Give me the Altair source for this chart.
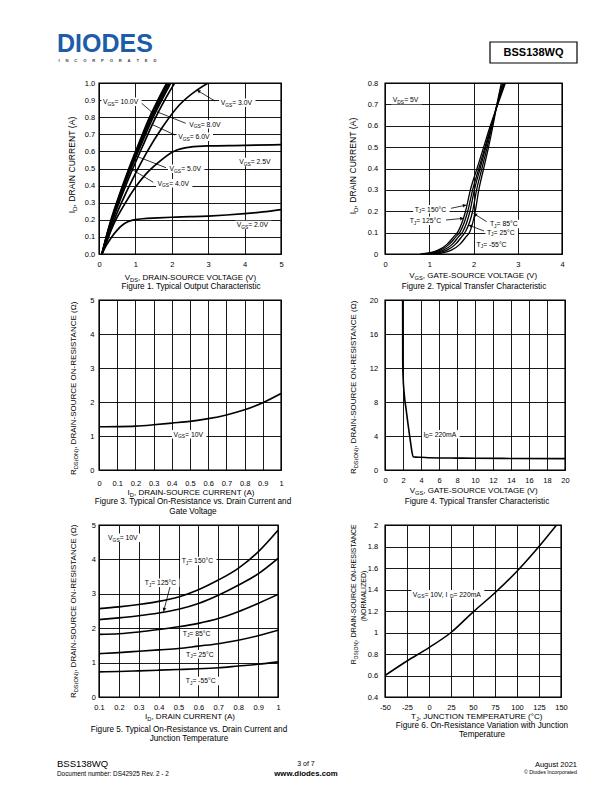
import math
import altair as alt
import pandas as pd

FONT = "Liberation Sans"
BLUE = "#1c5ca8"

# ---------------- Figure 1 : output characteristic ----------------
f1_vds_2v0 = [0.08, 0.2, 0.35, 0.5, 0.7, 0.9, 1.2, 1.6, 2.0, 2.5, 3.0, 3.5, 4.0, 4.5, 5.0]
f1_id_2v0 = [0, 0.05, 0.1, 0.14, 0.178, 0.197, 0.206, 0.211, 0.215, 0.218, 0.222, 0.228, 0.236, 0.246, 0.26]
f1_vds_2v5 = [0.08, 0.24, 0.44, 0.7, 1.0, 1.3, 1.6, 2.05, 2.5, 3.0, 4.0, 5.0]
f1_id_2v5 = [0, 0.09, 0.19, 0.29, 0.39, 0.47, 0.53, 0.6, 0.625, 0.632, 0.635, 0.64]
f1_vds_3v0 = [0.08, 0.24, 0.42, 0.66, 1.0, 1.3, 1.77, 2.2, 2.7, 3.0]
f1_id_3v0 = [0, 0.09, 0.2, 0.32, 0.47, 0.59, 0.75, 0.87, 0.96, 1.0]
f1_id_bundle = [0, 0.1, 0.2, 0.31, 0.5, 0.65, 0.8, 0.91, 1.0]
f1_vds_4v0 = [0.08, 0.22, 0.38, 0.57, 0.93, 1.24, 1.56, 1.83, 2.08]
f1_vds_5v0 = [0.08, 0.21, 0.36, 0.54, 0.88, 1.18, 1.49, 1.75, 1.97]
f1_vds_6v0 = [0.08, 0.205, 0.35, 0.53, 0.86, 1.15, 1.45, 1.71, 1.93]
f1_vds_8v0 = [0.08, 0.2, 0.34, 0.51, 0.84, 1.12, 1.42, 1.67, 1.89]
f1_vds_10v = [0.08, 0.2, 0.33, 0.5, 0.82, 1.1, 1.39, 1.64, 1.86]

# ---------------- Figure 2 : transfer characteristic ----------------
f2_id = [0, 0.005, 0.018, 0.045, 0.08, 0.105, 0.2, 0.3, 0.4, 0.5, 0.6, 0.7, 0.8]
f2_vgs_150 = [0.8, 1.0, 1.2, 1.4, 1.55, 1.65, 1.82, 1.93, 2.08, 2.23, 2.38, 2.55, 2.72]
f2_vgs_125 = [0.85, 1.05, 1.25, 1.45, 1.6, 1.7, 1.87, 1.98, 2.12, 2.26, 2.4, 2.54, 2.7]
f2_vgs_85 = [0.92, 1.12, 1.32, 1.52, 1.66, 1.76, 1.92, 2.02, 2.15, 2.28, 2.41, 2.54, 2.68]
f2_vgs_25 = [1.0, 1.2, 1.4, 1.59, 1.73, 1.82, 1.98, 2.07, 2.19, 2.31, 2.42, 2.53, 2.66]
f2_vgs_m55 = [1.1, 1.3, 1.5, 1.69, 1.83, 1.92, 2.04, 2.12, 2.23, 2.34, 2.44, 2.53, 2.63]

# ---------------- Figure 3 : Rds(on) vs Id ----------------
f3_id = [0, 0.1, 0.2, 0.3, 0.4, 0.5, 0.6, 0.7, 0.8, 0.9, 1.0]
f3_r = [1.27, 1.275, 1.29, 1.33, 1.38, 1.43, 1.51, 1.62, 1.77, 1.98, 2.25]

# ---------------- Figure 4 : Rds(on) vs Vgs ----------------
f4_vgs = [1.96, 1.97, 2.0, 2.15, 2.35, 2.52, 2.7, 2.88, 3.0, 3.14, 3.4, 4, 5, 6, 8, 10, 14, 20]
f4_r = [20, 13, 11.2, 8.8, 7.1, 5.7, 4.3, 2.95, 2.1, 1.57, 1.52, 1.5, 1.45, 1.42, 1.4, 1.38, 1.36, 1.34]

# ---------------- Figure 5 : Rds(on) vs Id and Tj ----------------
f5_id = [0.1, 0.2, 0.3, 0.4, 0.5, 0.6, 0.7, 0.8, 0.9, 1.0]
f5_r_150 = [2.57, 2.62, 2.69, 2.78, 2.91, 3.12, 3.4, 3.74, 4.22, 4.85]
f5_r_125 = [2.25, 2.3, 2.36, 2.44, 2.55, 2.72, 2.96, 3.25, 3.58, 4.03]
f5_r_85 = [1.82, 1.84, 1.89, 1.96, 2.04, 2.14, 2.28, 2.48, 2.72, 2.98]
f5_r_25 = [1.26, 1.29, 1.33, 1.37, 1.41, 1.48, 1.55, 1.65, 1.78, 1.94]
f5_r_m55 = [0.73, 0.74, 0.76, 0.78, 0.8, 0.82, 0.85, 0.9, 0.95, 1.02]

# ---------------- Figure 6 : normalized Rds(on) vs Tj ----------------
f6_tj = [-50, -25, 0, 25, 50, 75, 100, 125, 145]
f6_r = [0.6, 0.735, 0.86, 1.0, 1.19, 1.37, 1.57, 1.8, 2.0]

# ---------------- text metrics (Arial / Liberation Sans) ----------------
CW = {" ": 278, "\u00a0": 278, "(": 333, ")": 333, ",": 278, "-": 333, ".": 278,
      ":": 278, "=": 584, "°": 400, "©": 737, "Ω": 768}
for ch in "0123456789":
    CW[ch] = 556
CW.update(dict(A=667, B=667, C=722, D=722, E=667, F=611, G=778, H=722, I=278, J=500, K=667,
               L=556, M=833, N=722, O=778, P=667, Q=778, R=722, S=667, T=611, U=722, V=667,
               W=944, X=667, Y=667, Z=611))
CW.update(dict(a=556, b=556, c=500, d=556, e=556, f=278, g=556, h=556, i=222, j=222, k=500,
               l=222, m=833, n=556, o=556, p=556, q=556, r=333, s=500, t=278, u=556, v=500,
               w=722, x=500, y=500, z=500))
SUB = 0.72
LAB = 6.8


def tw(s, size):
    return sum(CW.get(c, 556) for c in s) * size / 1000.0


def parse(m):
    segs, i = [], 0
    while i < len(m):
        j = m.find("_{", i)
        if j < 0:
            segs.append((m[i:], False))
            break
        if j > i:
            segs.append((m[i:j], False))
        k = m.index("}", j)
        segs.append((m[j + 2:k], True))
        i = k + 1
    return segs


def text_rows(m, cx, cy, size, ang=0, anchor="center", weight="normal", color="black", ox=0, oy=0):
    cx -= ox
    cy -= oy
    base = 0.35 * size
    segs = parse(m)
    if len(segs) == 1 and not segs[0][1]:
        if ang == 0:
            r = dict(px=cx, py=cy + base, text=m, fs=size, ang=0)
        else:
            r = dict(px=cx + base, py=cy, text=m, fs=size, ang=ang)
        r.update(align=anchor, weight=weight, color=color)
        return [r], tw(m, size)
    widths = [tw(t, size * SUB if s else size) for t, s in segs]
    total = sum(widths)
    off = -total / 2 if anchor == "center" else (0 if anchor == "left" else -total)
    rows = []
    for (t, s), w in zip(segs, widths):
        fs = size * SUB if s else size
        sh = 0.25 * size if s else 0
        t2 = t.replace(" ", "\u00a0")
        if ang == 0:
            r = dict(px=cx + off, py=cy + base + sh, text=t2, fs=fs, ang=0)
        else:
            r = dict(px=cx + base + sh, py=cy - off, text=t2, fs=fs, ang=ang)
        r.update(align="left", weight=weight, color=color)
        rows.append(r)
        off += w
    return rows, total


def text_layers(rows):
    if not rows:
        return []
    df = pd.DataFrame(rows)
    out = []
    for (al, wt, col), g in df.groupby(["align", "weight", "color"]):
        out.append(
            alt.Chart(g.reset_index(drop=True)).mark_text(
                align=al, baseline="alphabetic", font=FONT, fontWeight=wt, color=col
            ).encode(
                x=alt.X("px:Q", scale=None),
                y=alt.Y("py:Q", scale=None),
                text="text:N",
                size=alt.Size("fs:Q", scale=None, legend=None),
                angle=alt.Angle("ang:Q", scale=None),
            )
        )
    return out


GEN_LABEL = "replace(format(datum.value, '~g'), '\u2212', '-')"


def make_axis(vals, expr, pad):
    return alt.Axis(values=vals, labelExpr=expr, grid=True, gridColor="black", gridWidth=0.9,
                    gridOpacity=1, ticks=False, tickSize=0, domain=False, labelFont=FONT,
                    labelFontSize=7.5, labelColor="black", labelPadding=pad, title=None,
                    labelFlush=False, labelOverlap=False)


def panel(P, curves, xdom, ydom, xvals, yvals, xexpr, yexpr, xpad, ypad,
          titles, labels, arrows, sw=1.6, page_rows=(), extra=()):
    left, top, w, h = P
    trows, rects = [], []
    for (m, cx, cy, size, ang) in titles:
        r, _ = text_rows(m, cx, cy, size, ang, ox=left, oy=top)
        trows += r
    for (m, cx, cy) in labels:
        r, tot = text_rows(m, cx, cy, LAB, 0, ox=left, oy=top)
        trows += r
        rects.append(dict(x1=cx - left - tot / 2 - 1.5, x2=cx - left + tot / 2 + 1.5,
                          y1=cy - top - 4.3, y2=cy - top + 4.3))
    for spec in page_rows:
        m, cx, cy, size, anchor, weight, color = spec
        trows += text_rows(m, cx, cy, size, 0, anchor, weight, color, ox=left, oy=top)[0]
    rules, heads = [], []
    for (x1, y1, x2, y2, hd) in arrows:
        rules.append(dict(x1=x1 - left, y1=y1 - top, x2=x2 - left, y2=y2 - top))
        if hd:
            dx, dy = x2 - x1, y2 - y1
            L = math.hypot(dx, dy)
            ang = math.degrees(math.atan2(dx, -dy)) % 360
            heads.append(dict(hx=x2 - left - dx / L * 2.2, hy=y2 - top - dy / L * 2.2, ha=ang))

    layers = []
    if rects:
        layers.append(alt.Chart(pd.DataFrame(rects)).mark_rect(color="white").encode(
            x=alt.X("x1:Q", scale=None), x2="x2:Q", y=alt.Y("y1:Q", scale=None), y2="y2:Q"))
    cdf = pd.DataFrame(curves)
    layers.append(alt.Chart(cdf).mark_line(color="black", strokeWidth=sw, interpolate="monotone",
                                           clip=True).encode(
        x=alt.X("x:Q", scale=alt.Scale(domain=xdom, nice=False, zero=False),
                axis=make_axis(xvals, xexpr, xpad)),
        y=alt.Y("y:Q", scale=alt.Scale(domain=ydom, nice=False, zero=False),
                axis=make_axis(yvals, yexpr, ypad)),
        detail="s:N"))
    if rules:
        layers.append(alt.Chart(pd.DataFrame(rules)).mark_rule(color="black", strokeWidth=0.8).encode(
            x=alt.X("x1:Q", scale=None), y=alt.Y("y1:Q", scale=None), x2="x2:Q", y2="y2:Q"))
    if heads:
        layers.append(alt.Chart(pd.DataFrame(heads)).mark_point(
            shape="triangle-up", filled=True, color="black", size=14, opacity=1).encode(
            x=alt.X("hx:Q", scale=None), y=alt.Y("hy:Q", scale=None),
            angle=alt.Angle("ha:Q", scale=None)))
    for (x1, y1, x2, y2) in extra:
        layers.append(alt.Chart(pd.DataFrame([dict(x1=x1 - left, x2=x2 - left, y1=y1 - top,
                                                   y2=y2 - top)])).mark_rect(
            fillOpacity=0, stroke="black", strokeWidth=1.2).encode(
            x=alt.X("x1:Q", scale=None), x2="x2:Q", y=alt.Y("y1:Q", scale=None), y2="y2:Q"))
    layers += text_layers(trows)
    return alt.layer(*layers).properties(
        width=w, height=h, view=alt.ViewBackground(stroke="black", strokeWidth=1.4))


def series(xs, ys, name):
    return [dict(x=a, y=b, s=name) for a, b in zip(xs, ys)]


def steps(a, b, st):
    n = int(round((b - a) / st))
    return [round(a + i * st, 4) for i in range(n + 1)]


TT = 8.0   # axis title size
TY = 8.6   # y title size for figures 1 and 2
CAP = 8.2  # caption size

# ---------------- panel geometry (page coords: left, top, width, height) ----------------
LEFT_X, RIGHT_X = 99, 385
P1 = (LEFT_X, 83, 182, 171)
P2 = (RIGHT_X, 83, 177, 171)
P3 = (LEFT_X, 300, 182, 170)
P4 = (RIGHT_X, 300, 180, 170)
P5 = (LEFT_X, 525, 179, 172)
P6 = (RIGHT_X, 525, 176, 172)

# header items (drawn from panels 1 and 2), footer items (panels 5 and 6)
NB = "\u00a0" * 5
header_left = [("DIODES", 57, 43, 25, "left", "bold", BLUE),
               (NB.join("INCORPORATED"), 107.5, 61, 4.2, "center", "bold", "#444444")]
header_right = [("BSS138WQ", 533.5, 52.5, 11, "center", "bold", "black")]
footer_left = [("BSS138WQ", 57, 764, 9.5, "left", "normal", "black"),
               ("Document number: DS42925 Rev. 2 - 2", 57, 773.5, 6.4, "left", "normal", "black"),
               ("3 of 7", 306, 764, 7, "center", "normal", "black"),
               ("www.diodes.com", 306, 773.5, 7.8, "center", "bold", "black")]
footer_right = [("August 2021", 577, 764, 7.5, "right", "normal", "black"),
                ("© Diodes Incorporated", 577, 772.5, 5.3, "right", "normal", "black")]

c1_curves = (series(f1_vds_2v0, f1_id_2v0, "2.0") + series(f1_vds_2v5, f1_id_2v5, "2.5")
             + series(f1_vds_3v0, f1_id_3v0, "3.0") + series(f1_vds_4v0, f1_id_bundle, "4.0")
             + series(f1_vds_5v0, f1_id_bundle, "5.0") + series(f1_vds_6v0, f1_id_bundle, "6.0")
             + series(f1_vds_8v0, f1_id_bundle, "8.0") + series(f1_vds_10v, f1_id_bundle, "10.0"))
ch1 = panel(P1, c1_curves, [0, 5], [0, 1], steps(0, 5, 1), steps(0, 1, 0.1),
            "format(datum.value, 'd')", "format(datum.value, '.1f')", 6.6, 4.3,
            [("V_{DS}, DRAIN-SOURCE VOLTAGE (V)", 191, 277, TT, 0),
             ("I_{D}, DRAIN CURRENT (A)", 71.7, 165, TY, 270),
             ("Figure 1. Typical Output Characteristic", 191, 286, CAP, 0)],
            [("V_{GS} = 10.0V", 121.5, 101.7), ("V_{GS} = 3.0V", 237.3, 102.7),
             ("V_{GS} = 8.0V", 205.8, 124.3), ("V_{GS} = 6.0V", 194.8, 136.7),
             ("V_{GS} = 2.5V", 255.8, 162), ("V_{GS} = 5.0V", 186.2, 168.7),
             ("V_{GS} = 4.0V", 174.2, 183.3), ("V_{GS} = 2.0V", 253.3, 225)],
            [(141.7, 103.3, 154.3, 114.3, True), (215, 101, 196.7, 90, True),
             (185.7, 123.3, 156.7, 111.7, False), (175, 135, 151.7, 124.3, False),
             (166, 167.7, 133.3, 155, False), (153.3, 182.3, 130, 168.3, False)], sw=1.7,
            page_rows=header_left)

c2_curves = (series(f2_vgs_150, f2_id, "150") + series(f2_vgs_125, f2_id, "125")
             + series(f2_vgs_85, f2_id, "85") + series(f2_vgs_25, f2_id, "25")
             + series(f2_vgs_m55, f2_id, "-55"))
ch2 = panel(P2, c2_curves, [0, 4], [0, 0.8], steps(0, 4, 1), steps(0, 0.8, 0.1),
            GEN_LABEL, GEN_LABEL, 6.8, 7.3,
            [("V_{GS}, GATE-SOURCE VOLTAGE (V)", 474, 275, TT, 0),
             ("I_{D}, DRAIN CURRENT (A)", 352.7, 166, TY, 270),
             ("Figure 2. Typical Transfer Characteristic", 474, 286, CAP, 0)],
            [("V_{DS} = 5V", 406.5, 100), ("T_{J} = 150°C", 431.3, 209.3),
             ("T_{J} = 125°C", 426.3, 220.7), ("T_{J} = 85°C", 504.7, 224),
             ("T_{J} = 25°C", 501.7, 232.3), ("T_{J} = -55°C", 492.5, 244.3)],
            [(451, 208.3, 466.7, 205, True), (446, 220, 464, 218.3, True),
             (486.7, 221.7, 473.3, 213.3, True), (484, 231, 468.3, 225, True)], sw=1.3,
            page_rows=header_right, extra=[(490, 42, 577, 63)])

ch3 = panel(P3, series(f3_id, f3_r, "10"), [0, 1], [0, 5], steps(0, 1, 0.1), steps(0, 5, 1),
            GEN_LABEL, GEN_LABEL, 9.0, 5.0,
            [("I_{D}, DRAIN-SOURCE CURRENT (A)", 191, 492, TT, 0),
             ("R_{DS(ON)}, DRAIN-SOURCE ON-RESISTANCE (Ω)", 72.7, 388, TT, 270),
             ("Figure 3. Typical On-Resistance vs. Drain Current and", 193, 501.5, CAP, 0),
             ("Gate Voltage", 193, 511, CAP, 0)],
            [("V_{GS} = 10V", 189.2, 434.3)], [])

ch4 = panel(P4, series(f4_vgs, f4_r, "220"), [0, 20], [0, 20], steps(0, 20, 2), steps(0, 20, 4),
            GEN_LABEL, GEN_LABEL, 6.1, 7.3,
            [("V_{GS}, GATE-SOURCE VOLTAGE (V)", 474.5, 490, TT, 0),
             ("R_{DS(ON)}, DRAIN-SOURCE ON-RESISTANCE (Ω)", 352.7, 387, TT, 270),
             ("Figure 4. Typical Transfer Characteristic", 477, 500.7, CAP, 0)],
            [("I_{D} = 220mA", 440.8, 434.3)], [])

c5_curves = (series(f5_id, f5_r_150, "150") + series(f5_id, f5_r_125, "125")
             + series(f5_id, f5_r_85, "85") + series(f5_id, f5_r_25, "25")
             + series(f5_id, f5_r_m55, "-55"))
ch5 = panel(P5, c5_curves, [0.1, 1], [0, 5], steps(0.1, 1, 0.1), steps(0, 5, 1),
            GEN_LABEL, GEN_LABEL, 6.5, 3.5,
            [("I_{D}, DRAIN CURRENT (A)", 190, 716, TT, 0),
             ("R_{DS(ON)}, DRAIN-SOURCE ON-RESISTANCE (Ω)", 72.7, 611, TT, 270),
             ("Figure 5. Typical On-Resistance vs. Drain Current and", 189, 729.3, CAP, 0),
             ("Junction Temperature", 189, 738.5, CAP, 0)],
            [("V_{GS} = 10V", 123.8, 537.7), ("T_{J} = 150°C", 198.3, 561),
             ("T_{J} = 125°C", 161.3, 582.7), ("T_{J} = 85°C", 197.5, 633.3),
             ("T_{J} = 25°C", 200.8, 654.3), ("T_{J} = -55°C", 201.7, 681)],
            [(170, 587, 163.5, 611.7, True)], page_rows=footer_left)

ch6 = panel(P6, series(f6_tj, f6_r, "n"), [-50, 150], [0.4, 2], steps(-50, 150, 25),
            steps(0.4, 2, 0.2), GEN_LABEL, GEN_LABEL, 6.5, 7.3,
            [("T_{J}, JUNCTION TEMPERATURE (°C)", 477, 716, TT, 0),
             ("R_{DS(ON)}, DRAIN-SOURCE ON-RESISTANCE", 353.5, 594, 7.0, 270),
             ("(NORMALIZED)", 363.5, 596, 7.0, 270),
             ("Figure 6. On-Resistance Variation with Junction", 482, 725.5, CAP, 0),
             ("Temperature", 482, 734, CAP, 0)],
            [("V_{GS} = 10V, I_{D} = 220mA", 447.8, 594.3)], [], page_rows=footer_right)


def spacer(w, h, top_reach=0):
    # invisible 1px anchor; top_reach lifts it above the row so the page origin is fixed
    return alt.Chart(pd.DataFrame({"v": [0]})).mark_rect(opacity=0).encode(
        x=alt.value(0), x2=alt.value(1), y=alt.value(-top_reach), y2=alt.value(-top_reach + 1)
    ).properties(width=w, height=h)


COL0 = LEFT_X - 8
COL2 = RIGHT_X - LEFT_X - max(P1[2], P3[2], P5[2])
items = [spacer(COL0, 217, top_reach=75), ch1, spacer(COL2, 1), ch2,
         spacer(COL0, 225), ch3, spacer(COL2, 1), ch4,
         spacer(COL0, 172), ch5, spacer(COL2, 1), ch6]

chart = alt.ConcatChart(
    concat=items, columns=4, spacing=0, bounds="flush", padding=0,
).configure_view(stroke=None)

chart.save("out.html", embed_options={"renderer": "svg", "actions": False})
